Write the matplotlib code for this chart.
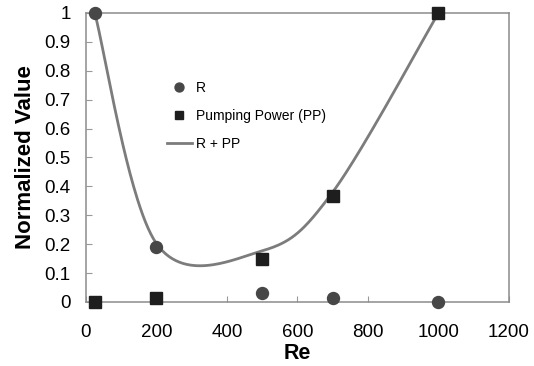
import matplotlib.pyplot as plt
import numpy as np

re_vals = [25, 200, 500, 700, 1000]
r_vals = [1.0, 0.19, 0.03, 0.012, 0.0]
pp_vals = [0.0, 0.012, 0.147, 0.368, 1.0]
sum_vals = [r + p for r, p in zip(r_vals, pp_vals)]


def smooth(xs, ys, n=60):
    # excel-like smoothed line (bezier through points)
    pts = np.column_stack([xs, ys]).astype(float)
    ext = np.vstack([pts[0], pts, pts[-1]])
    out = []
    t = np.linspace(0, 1, n)[:, None]
    for i in range(1, len(ext) - 2):
        p0, p1, p2, p3 = ext[i - 1], ext[i], ext[i + 1], ext[i + 2]
        c1 = p1 + (p2 - p0) / 6
        c2 = p2 - (p3 - p1) / 6
        seg = ((1 - t) ** 3) * p1 + 3 * ((1 - t) ** 2) * t * c1 + 3 * (1 - t) * t ** 2 * c2 + t ** 3 * p2
        out.append(seg)
    out = np.vstack(out)
    return out[:, 0], out[:, 1]


plt.rcParams['font.family'] = ['Liberation Sans', 'DejaVu Sans']

fig = plt.figure(figsize=(5.34, 3.66), dpi=100)
ax = fig.add_axes([0.161, 0.175, 0.792, 0.7895])

sx, sy = smooth(re_vals, sum_vals)
ax.plot(sx, sy, color='#7c7c7c', lw=2, label='R + PP', clip_on=False, zorder=2)
ax.plot(re_vals, r_vals, 'o', color='#474747', ms=8.6, label='R', clip_on=False, zorder=3)
ax.plot(re_vals, pp_vals, 's', color='#1e1e1e', ms=8.6, label='Pumping Power (PP)',
        clip_on=False, zorder=3)

ax.set_xlim(0, 1200)
ax.set_ylim(0, 1)
ax.set_xticks(np.arange(0, 1201, 200))
ax.set_yticks(np.arange(0, 1.01, 0.1))
ax.set_yticklabels(['0', '0.1', '0.2', '0.3', '0.4', '0.5', '0.6', '0.7', '0.8', '0.9', '1'])
ax.tick_params(direction='in', length=4, labelsize=13.5, color='#999')
ax.tick_params(axis='x', pad=16)
ax.tick_params(axis='y', pad=11)
for s in ax.spines.values():
    s.set_color('#8c8c8c')
    s.set_linewidth(1.1)

ax.set_xlabel('Re', fontsize=15.5, fontweight='bold', labelpad=1)
ax.set_ylabel('Normalized Value', fontsize=16, fontweight='bold', labelpad=6)

h, l = ax.get_legend_handles_labels()
order = [1, 2, 0]
ax.legend([h[i] for i in order], [l[i] for i in order], frameon=False, fontsize=10,
          loc='upper left', bbox_to_anchor=(0.161, 0.807), handlelength=1.8,
          labelspacing=1.0, handletextpad=0.3, markerscale=0.75)

fig.savefig('out.png', dpi=100)
